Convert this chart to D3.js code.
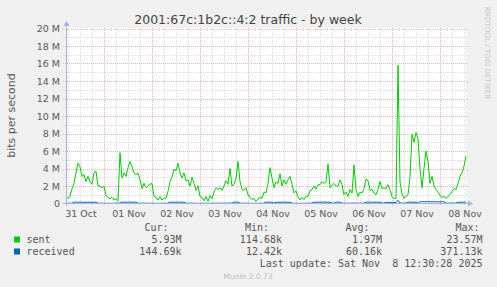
<!DOCTYPE html>
<html>
<head>
<meta charset="utf-8">
<script src="https://cdn.jsdelivr.net/npm/d3@7"></script>
<style>
  body { margin: 0; background: #f0f0f0; }
  svg { display: block; }
  text { font-family: "DejaVu Sans", sans-serif; }
  .mono { font-family: "DejaVu Sans Mono", monospace; white-space: pre; }
</style>
</head>
<body>
<div id="chart"></div>
<script>
// hourly samples, Mbit/s, starting Oct 31 04:30
const sent = [
  0.63, 0.63, 0.8, 1.7, 2.3, 3.5, 4.6, 4.2, 3.1, 3.3,
  2.5, 3.1, 2.5, 2.2, 3.5, 3.7, 2.0, 2.0, 1.8, 2.0,
  0.9, 0.7, 0.55, 0.7, 0.4, 0.55, 0.3, 5.8, 2.9, 3.5,
  3.1, 4.1, 4.8, 4.2, 3.5, 3.3, 3.5, 2.7, 1.7, 2.3,
  1.8, 2.0, 2.2, 2.3, 0.8, 0.7, 0.4, 0.8, 0.4, 0.6,
  0.6, 1.4, 2.5, 3.0, 3.9, 3.75, 4.6, 3.5, 2.9, 3.5,
  2.6, 2.7, 2.0, 3.0, 2.3, 1.5, 2.0, 0.8, 0.7, 0.3,
  0.8, 0.25, 0.9, 0.55, 1.3, 1.8, 1.6, 1.8, 1.5, 2.0,
  2.6, 2.2, 4.0, 2.0, 2.2, 2.9, 4.8, 2.5, 1.6, 1.5,
  1.8, 1.0, 0.7, 0.45, 0.6, 0.25, 0.5, 0.7, 0.6, 1.3,
  1.2, 2.3, 4.1, 2.9, 1.8, 2.45, 2.3, 3.4, 2.0, 2.7,
  2.2, 2.7, 3.1, 2.2, 1.2, 1.45, 0.75, 0.4, 0.7, 0.45,
  0.8, 0.8, 1.45, 1.6, 2.0, 1.65, 2.15, 2.15, 2.5, 2.3,
  2.5, 4.5, 1.8, 2.1, 2.3, 2.0, 2.0, 2.7, 2.15, 1.0,
  1.3, 0.8, 1.6, 1.2, 4.4, 1.6, 0.8, 1.3, 1.2, 1.7,
  2.8, 2.6, 1.5, 1.6, 1.2, 1.0, 1.6, 2.5, 1.7, 1.8,
  1.7, 2.15, 1.6, 0.8, 0.55, 0.6, 15.8, 2.5, 1.1, 0.6,
  0.8, 1.0, 3.0, 7.9, 7.0, 8.1, 7.4, 4.0, 1.8, 4.0,
  6.0, 4.8, 2.3, 3.1, 2.0, 1.6, 1.3, 0.9, 0.7, 0.8,
  0.6, 0.8, 1.0, 1.4, 1.7, 1.6, 2.3, 3.1, 3.5, 4.25,
  5.4
];
const received = [
  0.03, 0.03, 0.04, 0.03, 0.15, 0.17, 0.14, 0.16, 0.15, 0.13,
  0.14, 0.16, 0.15, 0.13, 0.15, 0.14, 0.03, 0.04, 0.03, 0.03,
  0.02, 0.03, 0.03, 0.02, 0.03, 0.03, 0.04, 0.05, 0.15, 0.16,
  0.14, 0.15, 0.17, 0.15, 0.14, 0.15, 0.04, 0.03, 0.03, 0.04,
  0.03, 0.03, 0.02, 0.03, 0.03, 0.02, 0.03, 0.02, 0.03, 0.03,
  0.03, 0.04, 0.15, 0.16, 0.14, 0.15, 0.16, 0.15, 0.14, 0.15,
  0.04, 0.03, 0.03, 0.04, 0.03, 0.03, 0.02, 0.02, 0.03, 0.02,
  0.03, 0.02, 0.03, 0.03, 0.04, 0.03, 0.03, 0.04, 0.03, 0.04,
  0.03, 0.04, 0.05, 0.04, 0.15, 0.16, 0.15, 0.04, 0.03, 0.03,
  0.03, 0.02, 0.03, 0.02, 0.02, 0.03, 0.02, 0.03, 0.03, 0.04,
  0.15, 0.16, 0.15, 0.14, 0.04, 0.14, 0.15, 0.13, 0.15, 0.16,
  0.14, 0.15, 0.14, 0.04, 0.03, 0.03, 0.02, 0.02, 0.03, 0.02,
  0.03, 0.03, 0.04, 0.04, 0.15, 0.14, 0.16, 0.15, 0.15, 0.17,
  0.14, 0.15, 0.15, 0.04, 0.04, 0.15, 0.16, 0.14, 0.04, 0.03,
  0.04, 0.03, 0.03, 0.04, 0.05, 0.03, 0.03, 0.04, 0.03, 0.04,
  0.15, 0.16, 0.15, 0.14, 0.16, 0.15, 0.14, 0.15, 0.05, 0.05,
  0.12, 0.13, 0.12, 0.11, 0.12, 0.1, 0.37, 0.05, 0.05, 0.04,
  0.05, 0.15, 0.16, 0.15, 0.14, 0.15, 0.05, 0.2, 0.21, 0.19,
  0.2, 0.22, 0.2, 0.19, 0.21, 0.2, 0.2, 0.18, 0.2, 0.21,
  0.05, 0.04, 0.05, 0.05, 0.04, 0.05, 0.15, 0.14, 0.15, 0.16,
  0.15
];
const dayLabels = ["31 Oct", "01 Nov", "02 Nov", "03 Nov", "04 Nov", "05 Nov", "06 Nov", "07 Nov", "08 Nov"];
const yTickValues = [0, 2, 4, 6, 8, 10, 12, 14, 16, 18, 20];
const yTickLabels = ["0", "2 M", "4 M", "6 M", "8 M", "10 M", "12 M", "14 M", "16 M", "18 M", "20 M"];
const seriesNames = ["sent", "received"];
const seriesColors = ["#00cc00", "#0066b3"];
const curValues = ["5.93M", "144.69k"];
const minValues = ["114.68k", "12.42k"];
const avgValues = ["1.97M", "60.16k"];
const maxValues = ["23.57M", "371.13k"];

const width = 497, height = 287;
const plotLeft = 66, plotRight = 466, plotTop = 28, plotBottom = 203;

const startTime = new Date(2025, 9, 31, 4, 30);
const endTime = new Date(2025, 10, 8, 12, 30);
const times = sent.map((d, i) => d3.timeHour.offset(startTime, i));

const x = d3.scaleTime().domain([startTime, endTime]).range([plotLeft, plotRight]);
const y = d3.scaleLinear().domain([0, 20]).range([plotBottom + 0.5, plotTop + 0.5]);

const svg = d3.select("#chart").append("svg")
  .attr("width", width).attr("height", height);

svg.append("rect").attr("width", width).attr("height", height).attr("fill", "#f0f0f0");
svg.append("rect")
  .attr("x", plotLeft).attr("y", plotTop)
  .attr("width", plotRight - plotLeft).attr("height", plotBottom - plotTop + 1)
  .attr("fill", "#ffffff");

// grid
const minorColor = "#dcdcdc", majorColor = "#ecb4b4";
const grid = svg.append("g");
d3.range(1, 21).forEach(function (v) {
  const yy = Math.round(y(v)) + 0.5;
  grid.append("line")
    .attr("x1", plotLeft - 3).attr("x2", plotRight + 3)
    .attr("y1", yy).attr("y2", yy)
    .attr("stroke", v % 2 ? minorColor : majorColor)
    .attr("stroke-dasharray", "1,1");
});
d3.timeHour.every(6).range(startTime, endTime).forEach(function (t) {
  const xx = Math.round(x(t)) - 0.5;
  const major = t.getHours() === 0;
  grid.append("line")
    .attr("x1", xx).attr("x2", xx)
    .attr("y1", plotTop).attr("y2", plotBottom + 3)
    .attr("stroke", major ? majorColor : minorColor)
    .attr("stroke-dasharray", "1,1");
});

// series
const line = d3.line().x((d, i) => x(times[i])).y((d) => y(d));
[sent, received].forEach(function (data, i) {
  svg.append("path")
    .datum(data)
    .attr("fill", "none")
    .attr("stroke", seriesColors[i])
    .attr("stroke-width", 1)
    .attr("d", line);
});

// axes
const axisColor = "#a8b2e6";
svg.append("line").attr("x1", plotLeft - 3).attr("x2", plotRight + 2)
  .attr("y1", plotBottom + 0.5).attr("y2", plotBottom + 0.5).attr("stroke", axisColor);
svg.append("line").attr("x1", plotLeft + 0.5).attr("x2", plotLeft + 0.5)
  .attr("y1", plotTop - 3).attr("y2", plotBottom + 3).attr("stroke", axisColor);
svg.append("path").attr("d", `M${plotRight + 2},${plotBottom - 2.5}L${plotRight + 7},${plotBottom + 0.5}L${plotRight + 2},${plotBottom + 3.5}Z`)
  .attr("fill", axisColor);
svg.append("path").attr("d", `M${plotLeft - 2.5},${plotTop - 2}L${plotLeft + 0.5},${plotTop - 7}L${plotLeft + 3.5},${plotTop - 2}Z`)
  .attr("fill", axisColor);

// y tick labels
svg.append("g").selectAll("text").data(yTickValues).enter().append("text")
  .attr("x", 60).attr("y", (d) => y(d) + 3.5)
  .attr("text-anchor", "end")
  .attr("font-size", 9.5).attr("fill", "#5a5a5a")
  .text((d, i) => yTickLabels[i]);

// x tick labels at noon
svg.append("g").selectAll("text").data(dayLabels).enter().append("text")
  .attr("x", (d, i) => x(new Date(2025, 9, 31 + i, 12)))
  .attr("y", 216.5)
  .attr("text-anchor", "middle")
  .attr("font-size", 9.5).attr("fill", "#5a5a5a")
  .text((d) => d);

svg.append("text")
  .attr("x", 248).attr("y", 23.5)
  .attr("text-anchor", "middle")
  .attr("font-size", 12.5).attr("fill", "#444")
  .text("2001:67c:1b2c::4:2 traffic - by week");

svg.append("text")
  .attr("transform", "translate(15,115.5) rotate(-90)")
  .attr("text-anchor", "middle")
  .attr("font-size", 11).attr("fill", "#555")
  .text("bits per second");

svg.append("text")
  .attr("transform", "translate(485,53) rotate(90)")
  .attr("text-anchor", "middle")
  .attr("font-size", 7.2).attr("fill", "#c8c8c8")
  .text("RRDTOOL / TOBI OETIKER");

// legend
const legend = svg.append("g").attr("font-size", 10).attr("fill", "#555");
[["Cur:", 168.5], ["Min:", 269], ["Avg:", 369.5], ["Max:", 479.5]].forEach(function (h) {
  legend.append("text").attr("class", "mono")
    .attr("x", h[1]).attr("y", 231).attr("text-anchor", "end").text(h[0]);
});
seriesNames.forEach(function (name, i) {
  const yy = 243 + i * 12;
  legend.append("rect").attr("x", 14).attr("y", yy - 6.5)
    .attr("width", 6).attr("height", 6).attr("fill", seriesColors[i]);
  legend.append("text").attr("class", "mono").attr("x", 26.5).attr("y", yy).text(name);
  [[curValues, 181.5], [minValues, 282], [avgValues, 382], [maxValues, 482.5]].forEach(function (c) {
    legend.append("text").attr("class", "mono")
      .attr("x", c[1]).attr("y", yy).attr("text-anchor", "end").text(c[0][i]);
  });
});
legend.append("text").attr("class", "mono")
  .attr("x", 482.5).attr("y", 267).attr("text-anchor", "end")
  .text("Last update: Sat Nov  8 12:30:28 2025");

svg.append("text")
  .attr("x", 248).attr("y", 279)
  .attr("text-anchor", "middle")
  .attr("font-size", 7.5).attr("fill", "#c0c0c0")
  .text("Munin 2.0.73");
</script>
</body>
</html>
